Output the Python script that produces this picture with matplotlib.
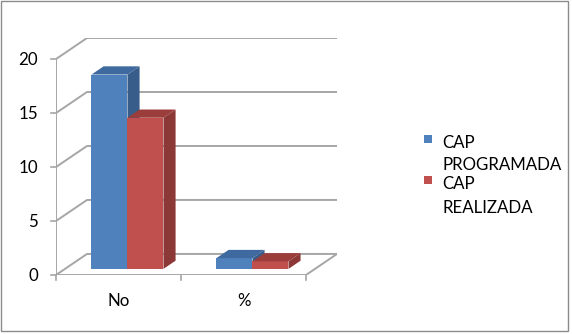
import matplotlib
matplotlib.use("Agg")
import matplotlib.pyplot as plt
from matplotlib.patches import Polygon, Rectangle

categories = ["No", "%"]
series_names = ["CAP\nPROGRAMADA", "CAP\nREALIZADA"]
cap_programada = [18, 1]
cap_realizada = [14, 0.7]
y_ticks = [0, 5, 10, 15, 20]

front_colors = ["#4F81BD", "#C0504D"]
side_colors = ["#385D8A", "#8C3836"]
top_colors = ["#3F6A9F", "#9B3D3A"]
grid_color = "#A6A6A6"
FONT = "Lato"
FS = 12.2

W, H = 572, 334
DX, DY = 0.248, 1.95      # full depth offset of the floor/walls (data units)
d0, d1 = 0.29, 0.68       # bar front/back depth fraction
bw = 0.288                # bar width

fig = plt.figure(figsize=(W / 100, H / 100), dpi=100)
ax = fig.add_axes([56 / W, 59 / H, 281 / W, 237 / H])
n = len(categories)
x0, x1 = -0.5, n - 0.5
ax.set_xlim(x0, x1 + DX)
ax.set_ylim(0, max(y_ticks) + DY)
ax.axis("off")

# walls / gridlines
for y in y_ticks:
    ax.plot([x0, x0 + DX, x1 + DX], [y, y + DY, y + DY], color=grid_color, lw=1.4,
            solid_capstyle="butt", zorder=1)
# floor front and right edges
ax.plot([x0, x1, x1 + DX], [0, 0, DY], color=grid_color, lw=1.4, zorder=1)
# left vertical axis
ax.plot([x0, x0], [0, max(y_ticks)], color=grid_color, lw=1.4, zorder=1)

# y tick marks and labels
for y in y_ticks:
    ax.plot([x0 - 0.04, x0], [y, y], color=grid_color, lw=1.2, clip_on=False, zorder=1)
    ax.annotate(str(y), xy=(x0, y), xytext=(-13, -1), textcoords="offset points",
                ha="right", va="center", fontsize=FS, family=FONT, color="#000000")

# x tick marks and labels
for k in range(n + 1):
    ax.plot([x0 + k, x0 + k], [0, -0.45], color=grid_color, lw=1.2, clip_on=False, zorder=1)
for i, c in enumerate(categories):
    ax.annotate(c, xy=(i, 0), xytext=(0, -18.5), textcoords="offset points",
                ha="center", va="center", fontsize=FS, family=FONT)

# bars
ddx, ddy = (d1 - d0) * DX, (d1 - d0) * DY
base = d0 * DY
for j, vals in enumerate([cap_programada, cap_realizada]):
    for i, v in enumerate(vals):
        xl = i - bw + j * bw + d0 * DX
        xr = xl + bw
        ax.bar(xl, v, width=bw, bottom=base, align="edge", color=front_colors[j],
               edgecolor="none", zorder=3 + j)
        top = base + v
        ax.add_patch(Polygon([(xr, base), (xr + ddx, base + ddy), (xr + ddx, top + ddy), (xr, top)],
                             closed=True, facecolor=side_colors[j], edgecolor="none", zorder=3 + j))
        ax.add_patch(Polygon([(xl, top), (xr, top), (xr + ddx, top + ddy), (xl + ddx, top + ddy)],
                             closed=True, facecolor=top_colors[j], edgecolor="none", zorder=3 + j))

# legend
leg = [(139, 143, 165), (180, 184, 208)]
for j, (sq, l1, l2) in enumerate(leg):
    fig.patches.append(Rectangle((424 / W, (H - sq - 4) / H), 8 / W, 8 / H,
                                 transform=fig.transFigure, facecolor=front_colors[j], edgecolor="none"))
    lines = series_names[j].split("\n")
    fig.text(442 / W, (H - l1) / H, lines[0], ha="left", va="center", fontsize=FS, family=FONT)
    fig.text(442 / W, (H - l2) / H, lines[1], ha="left", va="center", fontsize=FS, family=FONT)

# chart border
fig.patches.append(Rectangle((1 / W, 3 / H), 567 / W, 330 / H, transform=fig.transFigure,
                             fill=False, edgecolor="#8C8C8C", lw=1))

fig.savefig("out.png", dpi=100)
